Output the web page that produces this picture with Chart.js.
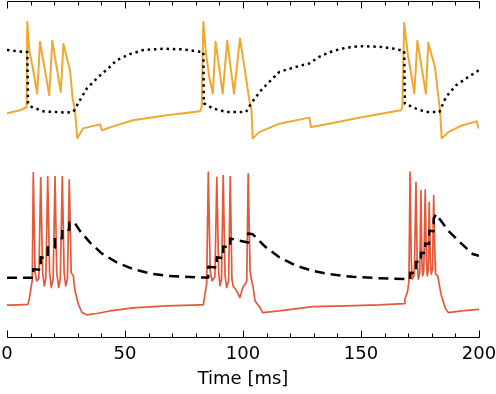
<!DOCTYPE html>
<html>
<head>
<meta charset="utf-8">
<script src="https://cdn.jsdelivr.net/npm/chart.js@4/dist/chart.umd.min.js"></script>
<style>
html,body{margin:0;padding:0;background:#fff;}
canvas{display:block;}
</style>
</head>
<body>
<canvas id="c" width="496" height="394"></canvas>
<script>
// ---- x axis ----
const X_MIN = 0, X_MAX = 200;
const MAJOR_TICKS = [0, 50, 100, 150, 200];
const MINOR_TICKS = [0, 10, 20, 30, 40, 50, 60, 70, 80, 90, 100, 110, 120, 130, 140, 150, 160, 170, 180, 190, 200];
const X_TITLE = 'Time [ms]';

// ---- top panel: orange membrane potential (mV) ----
const TOP_T = [0, 5.5, 8.3, 8.6, 9.45, 11.1, 12.8, 14.0, 17.9, 19.2, 22.8, 23.9, 26.7, 27.8, 28.8, 29.8, 32.2, 39.4, 40.3, 43.6, 53.4, 67.8, 81.8,
  82.5, 83.2, 84.3, 85.7, 87.2, 88.4, 91.4, 93.3, 96.2, 98.7, 100.8, 102.7, 103.6, 104.1, 106.9, 115.4, 128.1, 128.8, 136.6, 150.7, 166.9,
  167.5, 168.3, 169.8, 171.2, 172.6, 173.9, 177.5, 178.5, 181.3, 182.8, 183.5, 184.2, 187.0, 192.7, 199.0, 199.9];
const TOP_V = [-67.0, -63.9, -60.4, 28.4, -1.2, -22.1, -46.4, 7.5, -48.2, 8.5, -44.8, 5.1, -22.1, -51.3, -63.9, -93.1, -82.7, -78.5, -84.8, -81.6, -74.3, -69.1, -64.9,
  -60.4, 28.4, -4.3, -29.1, -46.4, 7.5, -46.4, 8.5, -46.4, 11.0, -22.1, -53.4, -63.9, -93.1, -86.6, -77.8, -71.5, -81.3, -77.8, -70.9, -63.9,
  -61.1, 27.3, -4.6, -25.5, -46.4, 8.5, -46.4, 6.4, -18.6, -50.0, -63.9, -93.1, -86.6, -79.6, -75.4, -83.0];

// ---- top panel: dotted gating variable (0..1) ----
const GATE_T = [0, 7.6, 8.6, 8.9, 10.5, 15.4, 25.3, 28.1, 30.9, 33.8, 38.0, 43.6, 46.5, 52.1, 57.8, 66.2, 74.7, 81.8, 83.2, 83.4, 87.4, 93.1, 101.3,
  103.4, 105.5, 108.3, 111.9, 115.4, 122.5, 128.1, 132.3, 138.0, 143.6, 149.3, 157.8, 163.4, 167.7, 168.3, 168.6, 173.3, 177.5, 183.2,
  186.0, 190.3, 194.5, 200.0];
const GATE_V = [0.931, 0.903, 0.903, 0.194, 0.143, 0.083, 0.065, 0.074, 0.236, 0.399, 0.538, 0.699, 0.792, 0.875, 0.931, 0.949, 0.940, 0.907, 0.903, 0.194, 0.121, 0.074, 0.074,
  0.190, 0.282, 0.399, 0.514, 0.629, 0.699, 0.746, 0.838, 0.917, 0.963, 0.986, 0.976, 0.954, 0.921, 0.917, 0.190, 0.121, 0.074, 0.074,
  0.282, 0.444, 0.538, 0.653];

// ---- bottom panel: red membrane potential (mV) ----
const BOT_T = [0, 5.0, 8.9, 9.6, 10.3, 10.7, 11.14, 11.9, 12.6, 13.5, 14.28, 15.1, 15.8, 16.45, 17.25, 18.05, 18.8, 19.55, 20.34, 21.1, 21.9, 22.6,
  23.43, 24.2, 24.9, 25.6, 26.4, 27.2, 28.1, 28.8, 30.2, 31.7, 33.8, 38.0, 43.6, 53.4, 67.7, 81.8,
  83.2, 83.9, 84.6, 85.3, 86.1, 86.9, 88.1, 88.9, 89.7, 90.3, 90.9, 91.6, 92.4, 93.1, 93.9, 94.6, 95.3, 95.8, 97.3, 98.7, 99.9, 101.0, 101.6,
  102.2, 103.0, 103.5, 104.2, 105.1, 107.2, 108.3, 115.4, 129.5, 143.6, 157.8, 168.3,
  168.6, 169.8, 170.3, 170.8, 171.3, 171.7, 172.6, 173.3, 173.8, 174.3, 174.9, 175.4, 175.8, 176.1, 176.6, 177.2, 177.7, 178.1, 178.5,
  178.9, 179.4, 179.8, 180.3, 180.8, 181.4, 181.6, 182.5, 183.9, 185.6, 187.0, 192.7, 199.7, 200];
const BOT_V = [-67.3, -67.0, -66.7, -61.3, -53.5, -50.0, 27.5, -44.1, -49.9, -48.4, 23.7, -44.1, -53.5, -48.4, 24.6, -44.1, -54.7, -48.4, 24.6, -44.1, -54.7, -48.4,
  24.6, -44.1, -53.5, -48.4, 22.3, -44.1, -46.3, -57.0, -66.3, -72.3, -74.2, -73.2, -71.4, -69.2, -67.8, -67.1,
  -67.1, -59.2, -52.0, 27.7, -42.7, -49.9, -47.0, 24.1, -44.1, -53.5, -48.4, 25.3, -46.3, -54.7, -49.9, 24.6, -48.4, -53.5, -57.0, -61.8, -54.7, -52.2, -49.9,
  26.6, -42.7, -48.4, -53.5, -64.2, -69.0, -72.6, -71.4, -68.3, -67.8, -67.1, -66.1,
  -63.0, -57.0, -49.9, 27.7, -35.5, -48.7, -45.6, 20.5, -35.5, -48.7, -44.1, 14.6, -35.5, -46.3, -42.7, 15.1, -35.5, -46.3, -42.7,
  6.2, -37.0, -45.1, -41.3, 11.0, -37.0, -45.1, -46.3, -59.4, -69.0, -72.6, -71.4, -70.2, -70.0];

// ---- bottom panel: dashed slow variable (0..1) ----
const CA_T = [0, 11.1, 11.1, 14.3, 14.3, 17.25, 17.25, 20.34, 20.34, 23.43, 23.43, 26.4, 26.4, 28.5, 30.9, 35.2, 40.1, 46.5, 53.5, 60.6, 67.7, 81.8,
  85.3, 85.3, 88.9, 88.9, 91.6, 91.6, 94.6, 94.6, 102.2, 102.2, 104.1, 109.7, 115.4, 122.5, 129.5, 136.6, 146.5, 157.8,
  170.8, 170.8, 173.3, 173.3, 175.4, 175.4, 177.2, 177.2, 178.9, 178.9, 180.8, 180.8, 181.8, 182.8, 187.0, 192.7, 197.3, 200.0];
const CA_V = [0.176, 0.176, 0.202, 0.200, 0.237, 0.235, 0.267, 0.265, 0.296, 0.294, 0.321, 0.319, 0.341, 0.342, 0.316, 0.281, 0.249, 0.222, 0.202, 0.189, 0.182, 0.177,
  0.177, 0.209, 0.207, 0.237, 0.235, 0.269, 0.267, 0.293, 0.281, 0.308, 0.306, 0.267, 0.237, 0.212, 0.197, 0.187, 0.179, 0.175,
  0.172, 0.191, 0.190, 0.224, 0.223, 0.251, 0.250, 0.278, 0.277, 0.316, 0.315, 0.352, 0.366, 0.356, 0.316, 0.277, 0.247, 0.242];

const toXY = (ts, vs) => ts.map((t, i) => ({x: t, y: vs[i]}));

const axisFrame = {
  id: 'axisFrame',
  afterDatasetsDraw(chart) {
    const {ctx, chartArea: a, scales: {x}} = chart;
    const yb = Math.round(a.bottom) + 0.5;
    const yt = Math.round(a.top) + 0.5;
    ctx.save();
    ctx.strokeStyle = '#000';
    ctx.lineWidth = 1;
    ctx.beginPath();
    const x0 = Math.round(x.getPixelForValue(X_MIN)) + 0.5;
    const x1 = Math.round(x.getPixelForValue(X_MAX)) + 0.5;
    ctx.moveTo(x0, yb); ctx.lineTo(x1, yb);
    ctx.moveTo(x0, yt); ctx.lineTo(x1, yt);
    MINOR_TICKS.forEach(t => {
      const len = MAJOR_TICKS.includes(t) ? 7 : 4;
      const px = Math.round(x.getPixelForValue(t)) + 0.5;
      ctx.moveTo(px, yb); ctx.lineTo(px, yb - len);
      ctx.moveTo(px, yt); ctx.lineTo(px, yt + len);
    });
    ctx.stroke();
    ctx.restore();
  }
};

const FONT = "'DejaVu Sans', sans-serif";

new Chart(document.getElementById('c'), {
  type: 'line',
  data: {
    datasets: [
      {data: toXY(GATE_T, GATE_V), yAxisID: 'yGate', borderColor: '#000', borderWidth: 2.5, borderDash: [2.5, 3.8], borderCapStyle: 'butt'},
      {data: toXY(CA_T, CA_V), yAxisID: 'yCa', borderColor: '#000', borderWidth: 2.5, borderDash: [10, 6], borderCapStyle: 'butt'},
      {data: toXY(TOP_T, TOP_V), yAxisID: 'yTop', borderColor: '#F0A830', borderWidth: 2},
      {data: toXY(BOT_T, BOT_V), yAxisID: 'yBot', borderColor: '#E5583A', borderWidth: 1.7}
    ]
  },
  options: {
    responsive: false,
    animation: false,
    devicePixelRatio: 1,
    layout: {padding: {top: 1, left: 7, right: 17, bottom: 0}},
    elements: {
      point: {radius: 0},
      line: {tension: 0, borderJoinStyle: 'round', fill: false}
    },
    plugins: {legend: {display: false}, tooltip: {enabled: false}},
    scales: {
      x: {
        type: 'linear', min: X_MIN, max: X_MAX,
        afterBuildTicks: s => { s.ticks = MAJOR_TICKS.map(v => ({value: v})); },
        afterFit: s => { s.height = 57; s.paddingLeft = 0; s.paddingRight = 0; },
        ticks: {color: '#000', font: {family: FONT, size: 18}, padding: 7, maxRotation: 0, autoSkip: false},
        grid: {display: false, drawTicks: false, tickLength: 0},
        border: {display: false},
        title: {display: true, text: X_TITLE, color: '#000', font: {family: FONT, size: 18}, padding: {top: 2, bottom: 4}}
      },
      yTop: {display: false, min: -300, max: 50},
      yGate: {display: false, min: -3.04, max: 1.61},
      yBot: {display: false, min: -90, max: 150},
      yCa: {display: false, min: 0, max: 1}
    }
  },
  plugins: [axisFrame]
});
</script>
</body>
</html>
